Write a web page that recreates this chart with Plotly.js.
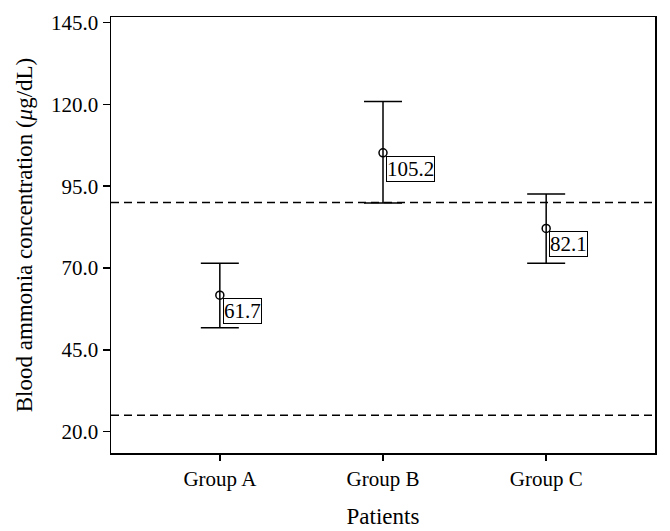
<!DOCTYPE html>
<html>
<head>
<meta charset="utf-8">
<script src="https://cdn.plot.ly/plotly-3.0.1.min.js"></script>
<style>body{margin:0;} #chart{width:670px;height:531px;}</style>
</head>
<body>
<div id="chart"></div>
<script>
var groups = ['Group A', 'Group B', 'Group C'];
var means = [61.7, 105.2, 82.1];
var errUp = [9.8, 15.7, 10.5];
var errDown = [9.9, 15.3, 10.6];
var refLines = [90, 25];
var yTicks = [20, 45, 70, 95, 120, 145];

var fontFam = '"Liberation Serif", "Times New Roman", serif';

var trace = {
    x: [0, 1, 2],
    y: means,
    mode: 'markers',
    type: 'scatter',
    marker: {symbol: 'circle-open', size: 8, color: '#000', line: {width: 1.5, color: '#000'}},
    error_y: {type: 'data', symmetric: false, array: errUp, arrayminus: errDown,
              color: '#000', thickness: 1.5, width: 19},
    showlegend: false,
    hoverinfo: 'none'
};

var shapes = refLines.map(function (v) {
    return {type: 'line', xref: 'paper', yref: 'y', x0: 0, x1: 1, y0: v, y1: v,
            line: {color: '#000', width: 1.5, dash: '8px,5px'}};
});

var annotations = means.map(function (m, i) {
    return {x: i, y: m, xref: 'x', yref: 'y', text: m.toFixed(1), showarrow: false,
            xanchor: 'left', yanchor: 'top', xshift: 3, yshift: -3,
            bordercolor: '#000', borderwidth: 1, borderpad: 0, bgcolor: '#fff',
            font: {family: fontFam, size: 21, color: '#000'}};
});

var layout = {
    width: 670, height: 531,
    margin: {l: 111, r: 15, t: 17, b: 78},
    paper_bgcolor: '#fff', plot_bgcolor: '#fff',
    font: {family: fontFam, size: 20, color: '#000'},
    xaxis: {
        range: [-0.667, 2.667], tickvals: [0, 1, 2], ticktext: groups,
        tickfont: {family: fontFam, size: 21, color: '#000'},
        showgrid: false, zeroline: false, showline: true, linecolor: '#000', linewidth: 1.5,
        mirror: true, ticks: 'outside', ticklen: 6, tickwidth: 1.5, tickcolor: '#000',
        title: {text: 'Patients', standoff: 18, font: {family: fontFam, size: 23, color: '#000'}}
    },
    yaxis: {
        range: [13.5, 146.7], tickvals: yTicks,
        ticktext: yTicks.map(function (t) { return t.toFixed(1); }),
        tickfont: {family: fontFam, size: 21, color: '#000'},
        showgrid: false, zeroline: false, showline: true, linecolor: '#000', linewidth: 1.5,
        mirror: true, ticks: 'outside', ticklen: 7, tickwidth: 1.5, tickcolor: '#000',
        title: {text: 'Blood ammonia concentration (<i>μ</i>g/dL)', standoff: 12,
                font: {family: fontFam, size: 23, color: '#000'}}
    },
    shapes: shapes,
    annotations: annotations
};

Plotly.newPlot('chart', [trace], layout, {displayModeBar: false, staticPlot: true});
</script>
</body>
</html>
